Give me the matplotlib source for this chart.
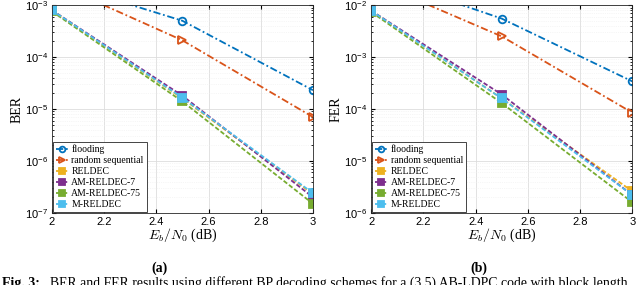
import numpy as np
import matplotlib
matplotlib.use("Agg")
import matplotlib.pyplot as plt
from matplotlib.ticker import LogLocator, NullFormatter

plt.rcParams['mathtext.fontset'] = 'cm'
plt.rcParams['font.family'] = ['Liberation Sans', 'DejaVu Sans']

snr = [2.0, 2.5, 3.0]
labels = ['flooding', 'random sequential', 'RELDEC', 'AM-RELDEC-7', 'AM-RELDEC-75', 'M-RELDEC']

ber_flooding = [3.0e-3, 5.0e-4, 2.3e-5]
ber_random = [2.8e-3, 2.1e-4, 7.0e-6]
ber_reldec = [8.0e-4, 1.6e-5, 2.3e-7]
ber_am7 = [8.0e-4, 1.8e-5, 2.0e-7]
ber_am75 = [7.6e-4, 1.4e-5, 1.5e-7]
ber_mreldec = [8.0e-4, 1.65e-5, 2.4e-7]

fer_flooding = [4.0e-2, 5.5e-3, 3.4e-4]
fer_random = [3.0e-2, 2.5e-3, 8.5e-5]
fer_reldec = [7.8e-3, 1.6e-4, 2.6e-6]
fer_am7 = [7.8e-3, 1.9e-4, 2.2e-6]
fer_am75 = [7.4e-3, 1.3e-4, 1.6e-6]
fer_mreldec = [7.8e-3, 1.6e-4, 2.2e-6]

colors = ['#0072BD', '#D95319', '#EDB120', '#7E2F8E', '#77AC30', '#4DBEEE']
markers = ['o', '>', 's', 's', 's', 's']
filled = [False, False, True, True, True, True]
dashes = [(4, 1.5, 1, 1.5), (4, 1.5, 1, 1.5), (2.5, 1.2), (2.5, 1.2), (2.5, 1.2), (2.5, 1.2)]


def panel(ax, series, ylabel, ylim):
    for vals, lab, c, m, f, d in zip(series, labels, colors, markers, filled, dashes):
        ax.plot(snr, vals, color=c, linewidth=1.3, dashes=d, marker=m,
                markersize=5.5, markeredgewidth=1.3,
                markerfacecolor=c if f else 'none', markeredgecolor=c, label=lab)
    ax.set_yscale('log')
    ax.set_xlim(2, 3)
    ax.set_ylim(*ylim)
    ax.set_xticks([2, 2.2, 2.4, 2.6, 2.8, 3])
    ax.set_xticklabels(['2', '2.2', '2.4', '2.6', '2.8', '3'])
    ax.yaxis.set_minor_locator(LogLocator(base=10, subs=np.arange(2, 10)))
    ax.yaxis.set_minor_formatter(NullFormatter())
    ax.grid(True, which='major', color='#dddddd', linewidth=0.6)
    ax.grid(True, which='minor', axis='y', color='#eeeeee', linewidth=0.5, linestyle=':')
    ax.tick_params(direction='in', which='both', top=True, right=True, labelsize=8, length=3, pad=3)
    ax.tick_params(which='minor', length=1.5)
    for s in ax.spines.values():
        s.set_color('#262626')
        s.set_linewidth(0.6)
    ax.set_xlabel(r'$E_b/N_0$ (dB)', fontsize=10, family='Liberation Serif', labelpad=0)
    ax.set_ylabel(ylabel, fontsize=10, family='Liberation Serif', labelpad=1)
    leg = ax.legend(loc='lower left', prop={'family': 'Liberation Serif', 'size': 7},
                    handlelength=1.3, handletextpad=0.3, labelspacing=0.2,
                    borderpad=0.3, borderaxespad=0.1, fancybox=False, framealpha=1,
                    markerscale=0.75)
    leg.get_frame().set_edgecolor('#262626')
    leg.get_frame().set_linewidth(0.6)


fig = plt.figure(figsize=(6.4, 2.85), dpi=100)
ax1 = fig.add_axes([0.081, 0.253, 0.408, 0.729])
ax2 = fig.add_axes([0.580, 0.253, 0.408, 0.729])

panel(ax1, [ber_flooding, ber_random, ber_reldec, ber_am7, ber_am75, ber_mreldec], 'BER', (1e-7, 1e-3))
panel(ax2, [fer_flooding, fer_random, fer_reldec, fer_am7, fer_am75, fer_mreldec], 'FER', (1e-6, 1e-2))

fig.text(0.249, 0.06, '(a)', ha='center', va='center', fontsize=10, fontweight='bold', family='Liberation Serif')
fig.text(0.749, 0.06, '(b)', ha='center', va='center', fontsize=10, fontweight='bold', family='Liberation Serif')
fig.text(0.003, -0.006, 'Fig. 3:', ha='left', va='baseline', fontsize=10, fontweight='bold', family='Liberation Serif')
fig.text(0.078, -0.006, 'BER and FER results using different BP decoding schemes for a (3,5) AB-LDPC code with block length',
         ha='left', va='baseline', fontsize=9.9, family='Liberation Serif')

fig.savefig('out.png', dpi=100)
